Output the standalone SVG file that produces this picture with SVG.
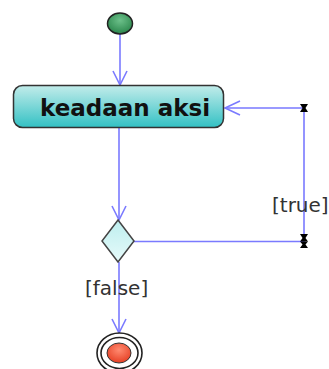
<svg xmlns="http://www.w3.org/2000/svg" width="329" height="369" viewBox="0 0 329 369">
<style>
.ln{stroke:#7a7aff;stroke-width:1.6;fill:none}
.ah{stroke:#7a7aff;stroke-width:1.6;fill:none}
.lbl{font-family:"DejaVu Sans",sans-serif;font-size:20px;fill:#333}
.bp{fill:#000}
</style>
<defs>
<linearGradient id="gAct" x1="0" y1="0" x2="0" y2="1">
<stop offset="0" stop-color="#c2ecea"/>
<stop offset="1" stop-color="#33c1c4"/>
</linearGradient>
<linearGradient id="gDec" x1="0" y1="0" x2="0" y2="1">
<stop offset="0" stop-color="#bdeeee"/>
<stop offset="1" stop-color="#e6fafa"/>
</linearGradient>
<radialGradient id="gStart" cx="0.5" cy="0.35" r="0.6">
<stop offset="0" stop-color="#6cc08a"/>
<stop offset="1" stop-color="#2f8a50"/>
</radialGradient>
<radialGradient id="gEnd" cx="0.5" cy="0.35" r="0.6">
<stop offset="0" stop-color="#ff8a70"/>
<stop offset="1" stop-color="#e8452a"/>
</radialGradient>
</defs>
<g id="connectors">
<path class="ln" d="M120,34 V85"/>
<path class="ah" d="M113,71 L120,85 L127,71"/>
<path class="ln" d="M119,128 V220"/>
<path class="ah" d="M112,206 L119,220 L126,206"/>
<path class="ln" d="M134,241.5 H304 V108 H225"/>
<path class="ah" d="M240,101 L225,108 L240,115"/>
<path class="ln" d="M119,262 V333"/>
<path class="ah" d="M112,319 L119,333 L126,319"/>
<path class="bp" d="M300,104 L308,104 L305.5,108 L308,112 L300,112 L302.5,108 Z"/>
<path class="bp" d="M300,234 L308,234 L305.5,238 L308,241.5 L300,241.5 L302.5,238 Z"/>
<path class="bp" d="M300,241.5 L308,241.5 L305.5,244.5 L308,248 L300,248 L302.5,244.5 Z"/>
<text class="lbl" x="272" y="212" font-size="18">[true]</text>
<text class="lbl" x="85" y="295">[false]</text>
</g>
<g id="start">
<ellipse cx="120" cy="23.5" rx="12.5" ry="10.5" fill="url(#gStart)" stroke="#222" stroke-width="1.5"/>
</g>
<g id="action">
<rect x="13.5" y="85.5" width="210" height="42" rx="9" fill="url(#gAct)" stroke="#333" stroke-width="1.5"/>
<text x="40" y="116" font-family="DejaVu Sans, sans-serif" font-weight="bold" font-size="23" fill="#111">keadaan aksi</text>
</g>
<g id="decision">
<path d="M118,220 L134,241 L118,262 L102,241 Z" fill="url(#gDec)" stroke="#444" stroke-width="1.5"/>
</g>
<g id="end">
<ellipse cx="119.5" cy="353" rx="22.5" ry="20" fill="#fff" stroke="#222" stroke-width="1.6"/>
<ellipse cx="119.5" cy="353" rx="18.5" ry="15.5" fill="none" stroke="#222" stroke-width="1.6"/>
<ellipse cx="119" cy="353" rx="12" ry="10" fill="url(#gEnd)" stroke="#333" stroke-width="1"/>
</g>
</svg>
